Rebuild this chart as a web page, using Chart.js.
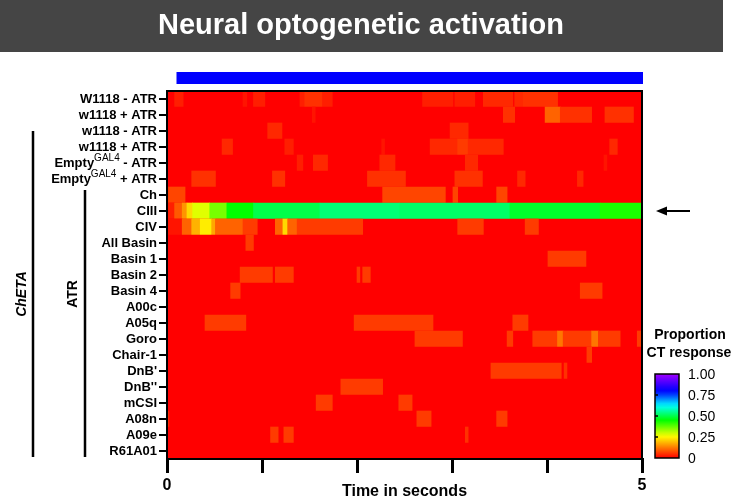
<!DOCTYPE html>
<html>
<head>
<meta charset="utf-8">
<script src="https://cdn.jsdelivr.net/npm/chart.js@4"></script>
<style>
  html, body { margin: 0; padding: 0; background: #fff; }
  #wrap { position: relative; width: 735px; height: 499px; }
</style>
</head>
<body>
<div id="wrap"><canvas id="heat" width="735" height="499"></canvas></div>
<script>
// rows, top to bottom ("^{...}" marks a superscript)
const rowLabels = [
  "W1118 - ATR", "w1118 + ATR", "w1118 - ATR", "w1118 + ATR",
  "Empty^{GAL4} - ATR", "Empty^{GAL4} + ATR",
  "Ch", "CIII", "CIV", "All Basin", "Basin 1", "Basin 2", "Basin 4",
  "A00c", "A05q", "Goro", "Chair-1", "DnB'", "DnB''", "mCSI", "A08n", "A09e", "R61A01"
];

// per row: [start s, end s, proportion CT response]; everything else is 0
const rowSegments = [
  [[0.08,0.17,0.03],[0.80,0.84,0.02],[0.91,1.03,0.03],[1.40,1.74,0.03],[1.45,1.63,0.05],[2.69,3.01,0.03],[3.03,3.24,0.03],[3.33,3.64,0.04],[3.66,4.11,0.04],[3.75,4.11,0.05]],
  [[1.53,1.56,0.02],[3.54,3.66,0.05],[3.98,4.14,0.10],[4.14,4.47,0.05],[4.61,4.91,0.05]],
  [[1.06,1.21,0.04],[2.98,3.17,0.04]],
  [[0.58,0.69,0.04],[1.24,1.33,0.03],[2.26,2.29,0.02],[2.77,3.06,0.04],[3.06,3.17,0.06],[3.17,3.54,0.04],[4.66,4.74,0.04]],
  [[1.37,1.43,0.03],[1.54,1.69,0.04],[2.24,2.40,0.04],[3.14,3.27,0.04],[4.60,4.63,0.02]],
  [[0.26,0.51,0.05],[1.11,1.24,0.05],[2.11,2.51,0.05],[3.03,3.32,0.05],[3.69,3.77,0.04],[4.32,4.38,0.04]],
  [[0,0.19,0.07],[2.27,2.93,0.07],[3.01,3.06,0.07],[3.47,3.58,0.07]],
  [[0,0.08,0.03],[0.08,0.16,0.09],[0.16,0.21,0.15],[0.21,0.27,0.22],[0.27,0.45,0.28],[0.45,0.63,0.36],[0.63,0.91,0.45],[0.91,1.61,0.50],[1.61,2.45,0.53],[2.45,3.61,0.52],[3.61,4.56,0.48],[4.56,5,0.43]],
  [[0,0.16,0.02],[0.16,0.26,0.10],[0.26,0.35,0.18],[0.35,0.47,0.24],[0.47,0.51,0.17],[0.51,0.80,0.10],[0.80,0.95,0.06],[1.14,1.22,0.10],[1.22,1.27,0.22],[1.27,1.37,0.10],[1.37,2.06,0.06],[3.06,3.33,0.06],[3.77,3.91,0.06]],
  [[0.83,0.91,0.06]],
  [[4.01,4.41,0.06]],
  [[0.77,1.11,0.06],[1.14,1.33,0.06],[2.00,2.03,0.06],[2.06,2.14,0.06]],
  [[0.67,0.77,0.06],[4.35,4.58,0.06]],
  [],
  [[0.40,0.83,0.06],[1.97,2.80,0.06],[3.64,3.80,0.06]],
  [[2.61,3.11,0.06],[3.58,3.64,0.06],[3.85,4.11,0.06],[4.11,4.17,0.12],[4.17,4.47,0.06],[4.47,4.54,0.12],[4.54,4.77,0.06],[4.95,5,0.06]],
  [[4.42,4.47,0.06]],
  [[3.41,4.15,0.06],[4.18,4.21,0.05]],
  [[1.83,2.27,0.06]],
  [[1.57,1.74,0.06],[2.44,2.58,0.06]],
  [[0,0.02,0.05],[2.63,2.78,0.06],[3.47,3.58,0.06]],
  [[1.09,1.17,0.06],[1.23,1.33,0.06],[3.14,3.17,0.05]],
  []
];

const timeTicks = [0, 1, 2, 3, 4, 5];
const timeLabels = ["0", "", "", "", "", "5"];
const stimulus = [0.1, 5];          // light on
const scaleTicks = [0, 0.25, 0.5, 0.75, 1];
const scaleLabels = ["0", "0.25", "0.50", "0.75", "1.00"];

const FONT = '"Liberation Sans", Arial, sans-serif';

// rainbow colour scale: red -> yellow -> green -> cyan -> blue -> violet
const hueStops = [[0, 0], [0.25, 58], [0.45, 120], [0.6, 172], [0.78, 235], [1, 278]];
function heatColor(v) {
  for (let i = 1; i < hueStops.length; i++) {
    const [v0, h0] = hueStops[i - 1], [v1, h1] = hueStops[i];
    if (v <= v1) {
      const h = h0 + (h1 - h0) * (v - v0) / (v1 - v0);
      return `hsl(${h.toFixed(1)},100%,50%)`;
    }
  }
  return `hsl(278,100%,50%)`;
}

// labels repeat (w1118 + ATR twice), so the category axis gets unique keys
const rowKeys = rowLabels.map((t, i) => i + "|" + t);
const cells = [];
rowSegments.forEach((segs, i) => {
  cells.push({ x: [0, 5], y: rowKeys[i], v: 0 });
  segs.forEach(s => cells.push({ x: [s[0], s[1]], y: rowKeys[i], v: s[2] }));
});

function drawRowLabel(ctx, text, xRight, y) {
  const bold = `bold 13px ${FONT}`;
  const sup = `10px ${FONT}`;
  ctx.textBaseline = "middle";
  const m = text.match(/^(.*)\^\{(.*)\}(.*)$/);
  if (!m) {
    ctx.font = bold; ctx.textAlign = "right";
    ctx.fillText(text, xRight, y);
    return;
  }
  ctx.font = bold; const w1 = ctx.measureText(m[1]).width, w3 = ctx.measureText(m[3]).width;
  ctx.font = sup; const w2 = ctx.measureText(m[2]).width;
  let x = xRight - w1 - w2 - w3;
  ctx.textAlign = "left";
  ctx.font = bold; ctx.fillText(m[1], x, y); x += w1;
  ctx.font = sup; ctx.fillText(m[2], x, y - 5); x += w2;
  ctx.font = bold; ctx.fillText(m[3], x, y);
}

const decor = {
  id: "decor",
  beforeDatasetsDraw(chart) {
    const { ctx, chartArea: a } = chart;
    ctx.save();
    ctx.fillStyle = heatColor(0);
    ctx.fillRect(a.left, a.top, a.right - a.left, a.bottom - a.top);
    ctx.restore();
  },
  afterDraw(chart) {
    const { ctx, chartArea: a } = chart;
    const xs = chart.scales.x, ys = chart.scales.y;
    ctx.save();

    // title banner
    ctx.fillStyle = "#454545";
    ctx.fillRect(0, 0, 723, 52);
    ctx.fillStyle = "#fff";
    ctx.font = `bold 29px ${FONT}`;
    ctx.textAlign = "center"; ctx.textBaseline = "middle";
    ctx.fillText("Neural optogenetic activation", 361, 26);

    // stimulus bar
    const s0 = xs.getPixelForValue(stimulus[0]), s1 = xs.getPixelForValue(stimulus[1]);
    ctx.fillStyle = "#0000ff";
    ctx.fillRect(s0, 72, s1 - s0 + 1, 12);

    // frame
    ctx.strokeStyle = "#000"; ctx.lineWidth = 2;
    ctx.strokeRect(a.left, a.top, a.right - a.left, a.bottom - a.top);

    // row labels
    ctx.fillStyle = "#000";
    rowLabels.forEach((t, i) => drawRowLabel(ctx, t, a.left - 10, ys.getPixelForValue(i)));

    // group brackets
    ctx.lineWidth = 2.5;
    ctx.beginPath();
    ctx.moveTo(33, ys.getPixelForValue(2)); ctx.lineTo(33, 457);
    ctx.moveTo(85, ys.getPixelForValue(6) - 5); ctx.lineTo(85, 457);
    ctx.stroke();
    ctx.textAlign = "center"; ctx.textBaseline = "middle";
    ctx.save(); ctx.translate(22, 294); ctx.rotate(-Math.PI / 2);
    ctx.font = `italic bold 14px ${FONT}`; ctx.fillText("ChETA", 0, 0); ctx.restore();
    ctx.save(); ctx.translate(73, 294); ctx.rotate(-Math.PI / 2);
    ctx.font = `bold 14px ${FONT}`; ctx.fillText("ATR", 0, 0); ctx.restore();

    // arrow at CIII
    const ay = ys.getPixelForValue(7);
    ctx.lineWidth = 2;
    ctx.beginPath(); ctx.moveTo(690, ay); ctx.lineTo(664, ay); ctx.stroke();
    ctx.beginPath(); ctx.moveTo(656, ay); ctx.lineTo(667, ay - 4.5); ctx.lineTo(667, ay + 4.5); ctx.closePath(); ctx.fill();

    // colour scale
    const cbL = 655, cbR = 679, cbT = 374, cbB = 458;
    const g = ctx.createLinearGradient(0, cbB, 0, cbT);
    for (let k = 0; k <= 20; k++) g.addColorStop(k / 20, heatColor(k / 20));
    ctx.fillStyle = g;
    ctx.fillRect(cbL, cbT, cbR - cbL, cbB - cbT);
    ctx.lineWidth = 1.5; ctx.strokeStyle = "#000";
    ctx.strokeRect(cbL, cbT, cbR - cbL, cbB - cbT);
    ctx.fillStyle = "#000";
    ctx.font = `bold 14px ${FONT}`; ctx.textAlign = "center";
    ctx.fillText("Proportion", 690, 335);
    ctx.fillText("CT response", 689, 353);
    ctx.font = `14px ${FONT}`; ctx.textAlign = "left";
    scaleTicks.forEach((v, k) => {
      const y = cbB - v * (cbB - cbT);
      ctx.fillText(scaleLabels[k], 688, y + 1);
      if (v > 0 && v < 1) { ctx.beginPath(); ctx.moveTo(cbL, y); ctx.lineTo(cbL + 3, y); ctx.stroke(); }
    });
    ctx.restore();
  }
};

new Chart(document.getElementById("heat"), {
  type: "bar",
  data: {
    labels: rowKeys,
    datasets: [{
      data: cells,
      backgroundColor: c => heatColor(c.raw ? c.raw.v : 0),
      borderWidth: 0,
      barPercentage: 1,
      categoryPercentage: 1,
      grouped: false
    }]
  },
  options: {
    indexAxis: "y",
    responsive: false,
    animation: false,
    layout: { padding: { left: 159, right: 93, top: 91, bottom: 0 } },
    plugins: { legend: { display: false }, tooltip: { enabled: false } },
    scales: {
      x: {
        type: "linear", min: 0, max: 5,
        afterBuildTicks: s => { s.ticks = timeTicks.map(v => ({ value: v })); },
        ticks: {
          callback: (v, i) => timeLabels[i],
          color: "#000", maxRotation: 0, padding: 3,
          font: { family: FONT, weight: "bold", size: 16 }
        },
        grid: { drawOnChartArea: false, tickLength: 14, lineWidth: 3, color: "#000" },
        border: { display: true, width: 2, color: "#000" },
        title: {
          display: true, text: "Time in seconds", color: "#000",
          font: { family: FONT, weight: "bold", size: 16, lineHeight: 1 },
          padding: { top: 0, bottom: -1 }
        },
        afterFit: s => { s.height = 40; }
      },
      y: {
        type: "category", offset: true,
        ticks: { display: false },
        grid: { drawOnChartArea: false, offset: false, tickLength: 8, lineWidth: 2, color: "#000" },
        border: { display: true, width: 2, color: "#000" },
        afterFit: s => { s.width = 8; }
      }
    }
  },
  plugins: [decor]
});
</script>
</body>
</html>
